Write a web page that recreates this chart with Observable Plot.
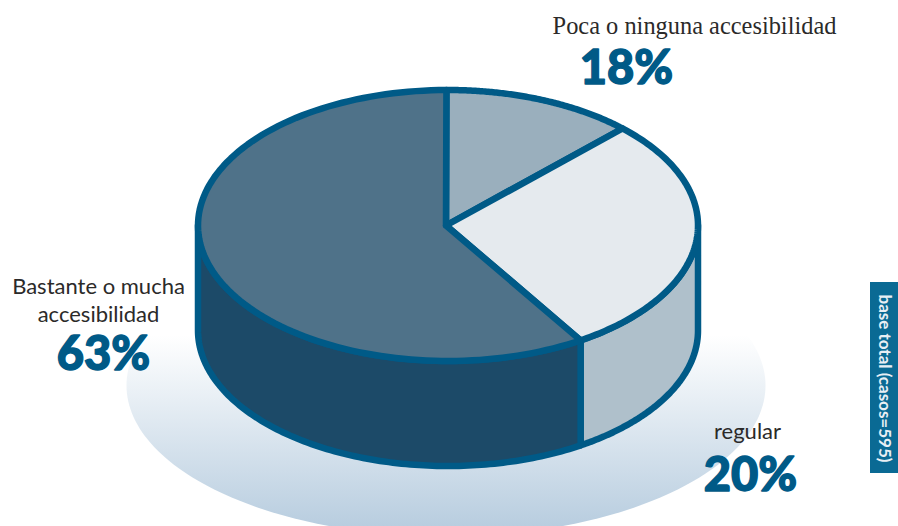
<!DOCTYPE html>
<html lang="es">
<head>
<meta charset="utf-8">
<script src="https://cdn.jsdelivr.net/npm/d3@7"></script>
<script src="https://cdn.jsdelivr.net/npm/@observablehq/plot@0.6"></script>
<style>html,body{margin:0;padding:0;background:#fff}svg{display:block}</style>
</head>
<body>
<div id="chart"></div>
<script>
const categories = ["Poca o ninguna accesibilidad", "regular", "Bastante o mucha accesibilidad"];
const labelValues = [18, 20, 63];
// The slices as they are drawn in the picture (share of the circle), clockwise from the top
const drawnShares = [12.4, 28.8, 58.8];
const topColors = ["#9aafbd", "#e5eaee", "#4f7289"];
const sideColors = ["#9aafbd", "#afc0cb", "#1c4a68"];

const W = 898, H = 526;
const cx = 447.5, cy = 225, rx = 250, ry = 135.5;
const depth = 0.775;            // thickness of the disc, in radii
const edge = "#005a87";
const hub = {x: -0.008, y: 0};

const sx = d3.scaleLinear().domain([-1, 1]).range([cx - rx, cx + rx]);
const sy = d3.scaleLinear().domain([-1, 1]).range([cy + ry, cy - ry]);

const at = (f, dy = 0) => ({x: Math.sin(2 * Math.PI * f), y: Math.cos(2 * Math.PI * f) - dy});
const arc = (a, b, dy = 0) => d3.range(0, 121).map(i => at(a + (b - a) * i / 120, dy));

const bounds = [0, ...d3.cumsum(drawnShares).map(d => d / d3.sum(drawnShares))].map(d => d - 0.001);
const topSlices = categories.map((c, i) => {
  const pts = arc(bounds[i], bounds[i + 1]);
  return [hub, ...pts, hub];
});
const sideSlices = categories.map((c, i) => {
  const a = Math.max(bounds[i], 0.25), b = Math.min(bounds[i + 1], 0.75);
  if (b <= a) return null;
  const up = arc(a, b), down = arc(a, b, depth).reverse();
  return [...up, ...down, up[0]];
}).map((p, i) => p && {pts: p, color: sideColors[i]}).filter(Boolean);

const halo = d3.range(0, 241).map(i => {
  const t = 2 * Math.PI * i / 240;
  return {x: sx.invert(445.5 + 319.5 * Math.sin(t)), y: sy.invert(385 - 151 * Math.cos(t))};
});

const defs = () => {
  const d = d3.create("svg:defs");
  const g = d.append("linearGradient").attr("id", "halo")
    .attr("gradientUnits", "userSpaceOnUse")
    .attr("x1", 0).attr("x2", 0).attr("y1", 335).attr("y2", 535);
  g.append("stop").attr("offset", 0).attr("stop-color", "#ffffff");
  g.append("stop").attr("offset", 1).attr("stop-color", "#b5cbde");
  return d.node();
};

const serif = "'Liberation Serif', serif";
const sans = "Lato, 'Noto Sans', sans-serif";
const pctStyle = {frameAnchor: "top-left", fontFamily: sans, fontWeight: 900, fontSize: 47, fill: edge, stroke: edge, strokeWidth: 1.4, textAnchor: "middle", lineAnchor: "middle"};
const lblStyle = {frameAnchor: "top-left", fontFamily: sans, fontSize: 22, fill: "#2b2a29", textAnchor: "middle", lineAnchor: "middle"};

const boxData = [{x1: sx.invert(870), x2: sx.invert(898), y1: sy.invert(282), y2: sy.invert(473)}];

const plot = Plot.plot({
  width: W, height: H, margin: 0,
  x: {domain: sx.domain(), range: sx.range(), axis: null},
  y: {domain: sy.domain(), range: sy.range(), axis: null},
  marks: [
    defs,
    Plot.line(halo, {x: "x", y: "y", fill: "url(#halo)", stroke: "none"}),
    ...sideSlices.map(s => Plot.line(s.pts, {x: "x", y: "y", fill: s.color, stroke: edge, strokeWidth: 6.5, strokeLinejoin: "round"})),
    ...topSlices.map((p, i) => Plot.line(p, {x: "x", y: "y", fill: topColors[i], stroke: edge, strokeWidth: 6.5, strokeLinejoin: "round"})),
    Plot.rect(boxData, {x1: "x1", x2: "x2", y1: "y1", y2: "y2", fill: "#0a6a94"}),
    Plot.text(["base total (casos=595)"], {frameAnchor: "top-left", dx: 884, dy: 378, rotate: 90, fontFamily: sans, fontWeight: 700, fontSize: 17, fill: "#e8eff4", textAnchor: "middle", lineAnchor: "middle"}),
    Plot.text([categories[0]], {...lblStyle, dx: 694, dy: 26, fontFamily: serif, fontSize: 24.4}),
    Plot.text([labelValues[0] + "%"], {...pctStyle, dx: 626, dy: 68}),
    Plot.text([categories[1]], {...lblStyle, dx: 747, dy: 431}),
    Plot.text([labelValues[1] + "%"], {...pctStyle, dx: 750, dy: 475}),
    Plot.text(["Bastante o mucha"], {...lblStyle, dx: 98, dy: 286}),
    Plot.text(["accesibilidad"], {...lblStyle, dx: 98, dy: 314}),
    Plot.text([labelValues[2] + "%"], {...pctStyle, dx: 103, dy: 354})
  ]
});
document.getElementById("chart").append(plot);
</script>
</body>
</html>
